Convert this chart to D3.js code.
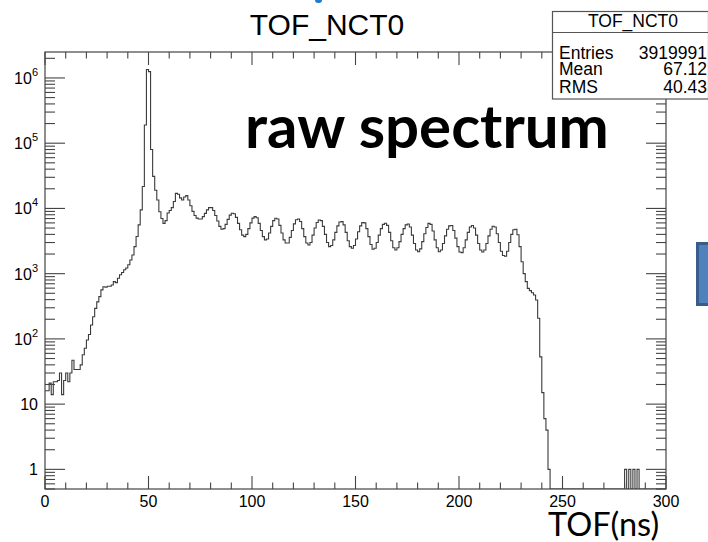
<!DOCTYPE html>
<html>
<head>
<meta charset="utf-8">
<script src="https://d3js.org/d3.v7.min.js"></script>
<style>
  body { margin: 0; background: #fff; }
  svg { display: block; }
  .lbl { font-family: 'Liberation Sans', Arial, sans-serif; fill: #000; }
</style>
</head>
<body>
<div id="chart"></div>
<script>
  // TOF_NCT0 contents, 1 ns bins from 0 to 300 ns
  var binCounts = [
    16, 16, 21, 14, 22, 22, 23, 30, 14, 23,
    30, 22, 30, 47, 34, 34, 34, 40, 57, 72,
    96, 117, 163, 219, 294, 370, 445, 564, 630, 620,
    640, 640, 670, 755, 730, 850, 960, 1040, 1150, 1220,
    1370, 1620, 1930, 2600, 3720, 5600, 9500, 21700, 190000, 1350000,
    1250000, 80000, 31000, 19000, 13500, 8900, 7000, 5900, 6500, 8500,
    9300, 10300, 12800, 17000, 16500, 14500, 13500, 15000, 15700, 13500,
    11000, 9000, 7800, 7100, 6900, 6900, 7500, 8400, 9500, 10300,
    10300, 9300, 7800, 6400, 5300, 4800, 4900, 5700, 6800, 7900,
    8440, 8300, 7300, 5900, 4700, 3900, 3700, 4000, 4900, 6000,
    7100, 7480, 7200, 5900, 4600, 3700, 3290, 3400, 4200, 5300,
    6500, 7080, 6900, 5500, 4200, 3300, 2950, 2950, 3600, 4600,
    5800, 6700, 6900, 6300, 4900, 3700, 2950, 2750, 3000, 3900,
    5000, 6100, 6660, 6500, 5300, 4000, 3000, 2600, 2700, 3300,
    4300, 5400, 6200, 6280, 5600, 4300, 3200, 2600, 2450, 2700,
    3400, 4400, 5400, 6060, 6000, 4900, 3700, 2800, 2370, 2450,
    3000, 3900, 4900, 5700, 5930, 5500, 4300, 3200, 2500, 2310,
    2500, 3100, 4000, 4900, 5600, 5770, 5200, 3900, 2900, 2300,
    2170, 2400, 3100, 4100, 5100, 5890, 5700, 4500, 3300, 2500,
    2170, 2300, 2900, 3800, 4800, 5400, 5460, 4600, 3500, 2600,
    2150, 2100, 2500, 3300, 4300, 5200, 5460, 5000, 3900, 2900,
    2300, 2150, 2300, 2900, 3800, 4800, 5320, 5200, 4100, 3000,
    2200, 1900, 1850, 2200, 3000, 4000, 4700, 4800, 3940, 2600,
    1520, 1000, 755, 594, 550, 510, 470, 395, 207, 53,
    15, 6, 4, 1, 0, 0, 0, 0, 0, 0,
    0, 0, 0, 0, 0, 0, 0, 0, 0, 0,
    0, 0, 0, 0, 0, 0, 0, 0, 0, 0,
    0, 0, 0, 0, 0, 0, 0, 0, 0, 0,
    1, 0, 1, 0, 1, 0, 1, 0, 0, 0,
    0, 0, 0, 0, 0, 0, 0, 0, 0, 0
  ];
  var binWidth = 1;

  var xTickValues = [0, 50, 100, 150, 200, 250, 300];
  var yDecades = [1, 10, 100, 1000, 10000, 100000, 1000000];
  var yTickBase = ["1", "10", "10", "10", "10", "10", "10"];
  var yTickExp = ["", "", "2", "3", "4", "5", "6"];

  var statNames = ["Entries", "Mean", "RMS"];
  var statValues = ["3919991", "67.12", "40.43"];

  var W = 708, H = 542;
  var frame = { left: 45, right: 666, top: 52, bottom: 489 };
  var yMin = 0.5, yMax = 2.5e6;

  var svg = d3.select("#chart").append("svg")
    .attr("width", W)
    .attr("height", H);

  var x = d3.scaleLinear().domain([0, 300]).range([frame.left, frame.right]);
  var y = d3.scaleLog().domain([yMin, yMax]).range([frame.bottom, frame.top]);

  // histogram drawn as ROOT-like steps
  var pts = [];
  binCounts.forEach(function (c, i) {
    var v = Math.max(c, yMin);
    pts.push([i * binWidth, v], [(i + 1) * binWidth, v]);
  });
  var line = d3.line()
    .x(function (d) { return x(d[0]); })
    .y(function (d) { return y(d[1]); });

  svg.append("defs").append("clipPath").attr("id", "clip")
    .append("rect")
    .attr("x", frame.left).attr("y", frame.top)
    .attr("width", frame.right - frame.left)
    .attr("height", frame.bottom - frame.top);

  svg.append("path")
    .datum(pts)
    .attr("clip-path", "url(#clip)")
    .attr("fill", "none")
    .attr("stroke", "#3a3a3a")
    .attr("stroke-width", 1.1)
    .attr("d", line);

  // frame
  svg.append("rect")
    .attr("x", frame.left).attr("y", frame.top)
    .attr("width", frame.right - frame.left)
    .attr("height", frame.bottom - frame.top)
    .attr("fill", "none")
    .attr("stroke", "#444")
    .attr("stroke-width", 1.2);

  var tickG = svg.append("g").attr("stroke", "#444").attr("stroke-width", 1.1);

  // x ticks, bottom and top, pointing inside
  d3.range(0, 301, 10).forEach(function (v) {
    var len = (v % 50 === 0) ? 13 : 6.5;
    tickG.append("line")
      .attr("x1", x(v)).attr("x2", x(v))
      .attr("y1", frame.bottom).attr("y2", frame.bottom - len);
    tickG.append("line")
      .attr("x1", x(v)).attr("x2", x(v))
      .attr("y1", frame.top).attr("y2", frame.top + len);
  });

  // y ticks (log), left and right
  for (var n = -1; n <= 6; n++) {
    for (var k = 1; k <= 9; k++) {
      var v = k * Math.pow(10, n);
      if (v < yMin || v > yMax) continue;
      var len = (k === 1) ? 20 : 10;
      tickG.append("line")
        .attr("x1", frame.left).attr("x2", frame.left + len)
        .attr("y1", y(v)).attr("y2", y(v));
      tickG.append("line")
        .attr("x1", frame.right).attr("x2", frame.right - len)
        .attr("y1", y(v)).attr("y2", y(v));
    }
  }

  // x labels
  svg.selectAll(".xl")
    .data(xTickValues)
    .enter()
    .append("text")
    .attr("class", "lbl")
    .attr("x", function (d) { return x(d); })
    .attr("y", 507)
    .attr("text-anchor", "middle")
    .style("font-size", "16px")
    .text(function (d) { return d; });

  // y labels with exponents
  yDecades.forEach(function (v, i) {
    var t = svg.append("text")
      .attr("class", "lbl")
      .attr("x", 38)
      .attr("y", y(v) + 6)
      .attr("text-anchor", "end")
      .style("font-size", "16px");
    t.append("tspan").text(yTickBase[i]);
    if (yTickExp[i]) {
      t.append("tspan").attr("dy", -8).style("font-size", "11px").text(yTickExp[i]);
    }
  });

  // title
  svg.append("text")
    .attr("class", "lbl")
    .attr("x", 327)
    .attr("y", 35)
    .attr("text-anchor", "middle")
    .style("font-size", "30px")
    .text("TOF_NCT0");

  // stats box
  var statRowY = [59, 75, 93];
  var sb = svg.append("g");
  sb.append("rect")
    .attr("x", 552.5).attr("y", 11.5)
    .attr("width", 156).attr("height", 87.5)
    .attr("fill", "#fff")
    .attr("stroke", "#555")
    .attr("stroke-width", 1.2);
  sb.append("line")
    .attr("x1", 552.5).attr("x2", 708)
    .attr("y1", 32.5).attr("y2", 32.5)
    .attr("stroke", "#555").attr("stroke-width", 1.2);
  sb.append("text")
    .attr("class", "lbl")
    .attr("x", 633).attr("y", 27)
    .attr("text-anchor", "middle")
    .style("font-size", "17.5px")
    .text("TOF_NCT0");
  statNames.forEach(function (s, i) {
    sb.append("text")
      .attr("class", "lbl")
      .attr("x", 559).attr("y", statRowY[i])
      .style("font-size", "17.5px")
      .text(s);
    sb.append("text")
      .attr("class", "lbl")
      .attr("x", 707).attr("y", statRowY[i])
      .attr("text-anchor", "end")
      .style("font-size", "17.5px")
      .text(statValues[i]);
  });

  // slide annotations
  svg.append("text")
    .attr("x", 245).attr("y", 148)
    .style("font-family", "Lato, sans-serif")
    .style("font-weight", "bold")
    .style("font-size", "60px")
    .text("raw spectrum");

  svg.append("text")
    .attr("x", 548).attr("y", 536)
    .style("font-family", "Lato, sans-serif")
    .style("font-size", "32.5px")
    .text("TOF(ns)");

  // pieces of other slide objects cut by the crop
  svg.append("rect")
    .attr("x", 697.5).attr("y", 243.5)
    .attr("width", 14).attr("height", 61)
    .attr("fill", "#4f81bd")
    .attr("stroke", "#385d8a")
    .attr("stroke-width", 3);
  svg.append("rect")
    .attr("x", 315).attr("y", -4)
    .attr("width", 7).attr("height", 7)
    .attr("rx", 3)
    .attr("fill", "#1f7ccf");
</script>
</body>
</html>
